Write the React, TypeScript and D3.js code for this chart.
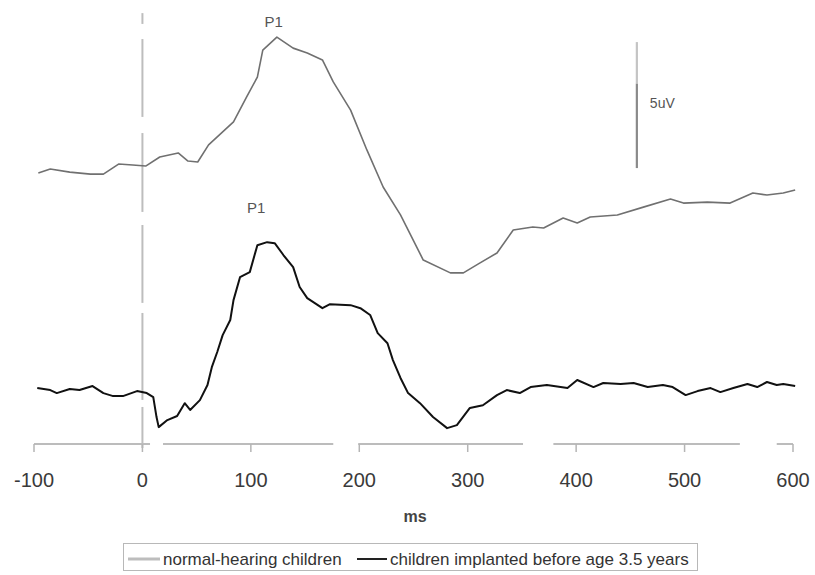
import React from "react";
import * as d3 from "d3";

// time (ms) and amplitude (µV, relative to each trace's own baseline)
const normalTime = [-96, -85, -67, -48, -36, -22, -9, 3, 16, 33, 42, 51, 61, 84, 96, 106, 111, 124, 139, 152, 166, 176, 192, 207, 222, 238, 259, 284, 296, 311, 327, 342, 360, 370, 388, 401, 413, 438, 462, 487, 499, 521, 542, 563, 576, 591, 602];
const normalAmp = [-0.05, 0.11, -0.01, -0.09, -0.09, 0.31, 0.27, 0.23, 0.59, 0.75, 0.43, 0.39, 1.07, 1.98, 2.97, 3.76, 4.83, 5.35, 4.91, 4.72, 4.44, 3.57, 2.45, 0.87, -0.6, -1.71, -3.5, -4.01, -4.01, -3.62, -3.22, -2.31, -2.19, -2.23, -1.83, -2.03, -1.79, -1.71, -1.4, -1.08, -1.24, -1.2, -1.24, -0.84, -0.92, -0.84, -0.72];

const implantTime = [-97, -85, -79, -67, -58, -46, -36, -27, -18, -5, 4, 10, 13, 15, 23, 32, 39, 44, 53, 60, 64, 69, 74, 81, 84, 90, 99, 106, 115, 122, 130, 139, 145, 152, 166, 173, 192, 201, 210, 217, 226, 231, 238, 245, 256, 268, 281, 290, 302, 314, 327, 336, 348, 358, 373, 392, 401, 416, 425, 441, 453, 466, 480, 489, 501, 512, 524, 533, 545, 558, 567, 576, 585, 591, 602];
const implantAmp = [0.12, 0.04, -0.08, 0.08, 0.04, 0.2, -0.08, -0.2, -0.2, 0.0, -0.08, -0.24, -1.03, -1.43, -1.15, -0.99, -0.48, -0.75, -0.36, 0.24, 0.95, 1.55, 2.22, 2.82, 3.61, 4.52, 4.72, 5.79, 5.91, 5.87, 5.4, 4.92, 4.13, 3.69, 3.29, 3.45, 3.41, 3.29, 3.02, 2.3, 1.9, 1.23, 0.52, -0.08, -0.48, -1.03, -1.47, -1.35, -0.67, -0.56, -0.16, 0.04, -0.08, 0.16, 0.24, 0.12, 0.44, 0.16, 0.32, 0.28, 0.32, 0.16, 0.24, 0.16, -0.16, 0.0, 0.12, -0.04, 0.12, 0.28, 0.16, 0.36, 0.24, 0.28, 0.2];

// vertical offsets (µV) at which each trace is drawn
const normalOffset = 10.8;
const implantOffset = 2.1;

const xTicks = [-100, 0, 100, 200, 300, 400, 500, 600];
const xLabel = "ms";
const seriesNames = ["normal-hearing children", "children implanted before age 3.5 years"];
const peakLabels = ["P1", "P1"];
const peakTimes = [121, 105];
const peakAmps = [16.55, 9.15];

// calibration bar: 5 µV
const scaleBarTime = 456;
const scaleBarFrom = 10.95;
const scaleBarSize = 5;
const scaleBarLabel = "5uV";

// broken (scanned) axis and zero-line segments
const axisSegments: [number, number][] = [[-100, 7], [19, 176], [199, 351], [379, 551], [585, 600]];
const zeroSegments: [number, number][] = [[17.1, 16.67], [16.07, 12.98], [12.34, 9.21], [8.69, 5.6], [5.2, 1.75], [1.47, -0.16]];

const W = 815;
const H = 575;
const FONT = "'Liberation Sans', Arial, Helvetica, sans-serif";

export default function App() {
  const x = d3.scaleLinear().domain([-100, 600]).range([34, 793]);
  const y = d3.scaleLinear().domain([0, 17.62]).range([444, 0]);

  const line = d3
    .line<[number, number]>()
    .x((d) => x(d[0]))
    .y((d) => y(d[1]))
    .curve(d3.curveLinear);

  const normalPts: [number, number][] = normalTime.map((t, i) => [t, normalAmp[i] + normalOffset]);
  const implantPts: [number, number][] = implantTime.map((t, i) => [t, implantAmp[i] + implantOffset]);

  const axisY = y(0);
  const barSplit = scaleBarFrom + scaleBarSize * 0.67;

  return (
    <svg
      width={W}
      height={H}
      viewBox={`0 0 ${W} ${H}`}
      style={{ position: "absolute", left: 0, top: 0, background: "#fff" }}
    >
      <rect x={0} y={0} width={W} height={H} fill="#fff" />

      {/* zero-time vertical line */}
      {zeroSegments.map((s, i) => (
        <line key={"z" + i} x1={x(0)} x2={x(0)} y1={y(s[0])} y2={y(s[1])} stroke="#bdbdbd" strokeWidth={2} />
      ))}

      {/* x axis */}
      {axisSegments.map((s, i) => (
        <line key={"a" + i} x1={x(s[0])} x2={x(s[1])} y1={axisY} y2={axisY} stroke="#bcbcbc" strokeWidth={2} />
      ))}
      {xTicks.map((t) => (
        <g key={t}>
          <line x1={x(t)} x2={x(t)} y1={axisY} y2={axisY + 8} stroke="#b5b5b5" strokeWidth={1.5} />
          <text
            x={x(t)}
            y={487}
            textAnchor="middle"
            fontFamily={FONT}
            fontSize={20}
            fill="#3a3a3a"
          >
            {t}
          </text>
        </g>
      ))}
      <text x={415} y={522} textAnchor="middle" fontFamily={FONT} fontSize={16} fontWeight="bold" fill="#444">
        {xLabel}
      </text>

      {/* calibration bar */}
      <line x1={x(scaleBarTime)} x2={x(scaleBarTime)} y1={y(scaleBarFrom + scaleBarSize)} y2={y(barSplit)} stroke="#c4c4c4" strokeWidth={2.2} />
      <line x1={x(scaleBarTime)} x2={x(scaleBarTime)} y1={y(barSplit)} y2={y(scaleBarFrom)} stroke="#8a8a8a" strokeWidth={2.2} />
      <text x={x(scaleBarTime) + 13} y={108} fontFamily={FONT} fontSize={14} fill="#555">
        {scaleBarLabel}
      </text>

      {/* traces */}
      <path d={line(normalPts) || ""} fill="none" stroke="#707070" strokeWidth={1.6} strokeLinejoin="round" />
      <path d={line(implantPts) || ""} fill="none" stroke="#111" strokeWidth={2} strokeLinejoin="round" />

      {/* peak labels */}
      {peakLabels.map((p, i) => (
        <text
          key={"p" + i}
          x={x(peakTimes[i])}
          y={y(peakAmps[i])}
          textAnchor="middle"
          fontFamily={FONT}
          fontSize={15}
          fill="#555"
        >
          {p}
        </text>
      ))}

      {/* legend */}
      <rect x={123.5} y={543.5} width={574} height={27} fill="none" stroke="#b8b8b8" strokeWidth={1} />
      <line x1={128} x2={160} y1={559} y2={559} stroke="#bdbdbd" strokeWidth={3} />
      <text x={163} y={565} fontFamily={FONT} fontSize={17} fill="#333">
        {seriesNames[0]}
      </text>
      <line x1={357} x2={387} y1={559} y2={559} stroke="#222" strokeWidth={2} />
      <text x={390} y={565} fontFamily={FONT} fontSize={17} fill="#333">
        {seriesNames[1]}
      </text>
    </svg>
  );
}
